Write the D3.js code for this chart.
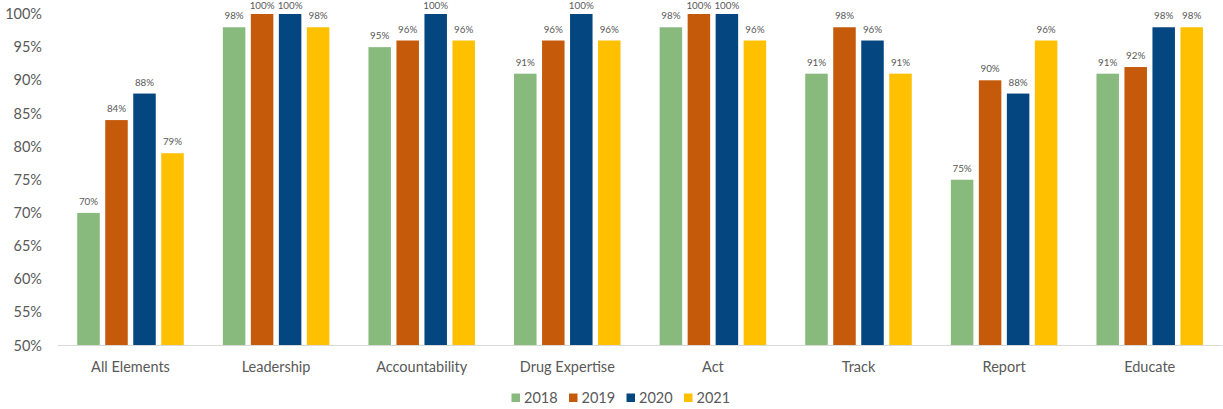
<!DOCTYPE html>
<html><head><meta charset="utf-8">
<script src="https://cdn.jsdelivr.net/npm/d3@7"></script>
<style>body{margin:0;background:#fff}svg{display:block}text{font-family:Lato,"Open Sans",sans-serif;fill:#595959}</style>
</head><body><svg id="c" width="1223" height="409"></svg>
<script>
const categories = ["All Elements","Leadership","Accountability","Drug Expertise","Act","Track","Report","Educate"];
const years = ["2018","2019","2020","2021"];
const v2018 = [70,98,95,91,98,91,75,91];
const v2019 = [84,100,96,96,100,98,90,92];
const v2020 = [88,100,100,100,100,96,88,98];
const v2021 = [79,98,96,96,96,91,96,98];
const yTicks = [50,55,60,65,70,75,80,85,90,95,100];
const colors = ["#88BA7E","#C55A0B","#04467F","#FFC000"];
const series = [v2018,v2019,v2020,v2021];

const svg = d3.select("#c");
const x = d3.scaleBand().domain(categories).range([57.7,1222.5]);
const y = d3.scaleLinear().domain([50,100]).range([345.5,14]);
const slot = 28, bw = 22.5;

svg.append("g").selectAll("text").data(yTicks).join("text")
  .attr("x",42).attr("y",d=>y(d)).attr("dy","0.35em").attr("text-anchor","end")
  .style("font-size","14.5px").text(d=>d+"%");

categories.forEach((c,i)=>{
  const cx = x(c)+x.bandwidth()/2;
  series.forEach((s,j)=>{
    const bx = cx + (j-1.5)*slot - bw/2;
    svg.append("rect").attr("x",bx).attr("y",y(s[i])).attr("width",bw)
      .attr("height",y(50)-y(s[i])).attr("fill",colors[j]);
    svg.append("text").attr("x",bx+bw/2).attr("y",Math.max(y(s[i])-8,9))
      .attr("text-anchor","middle").style("font-size","9.8px").text(s[i]+"%");
  });
  svg.append("text").attr("x",cx).attr("y",367).attr("dy","0.35em")
    .attr("text-anchor","middle").style("font-size","14.5px").text(c);
});

svg.append("line").attr("x1",57.7).attr("x2",1222.5).attr("y1",345.5).attr("y2",345.5)
  .attr("stroke","#D9D9D9").attr("stroke-width",1);

const lg = svg.append("g");
years.forEach((yr,j)=>{
  const lx = 511.5 + j*57.5;
  lg.append("rect").attr("x",lx).attr("y",393.5).attr("width",8.5).attr("height",8.5).attr("fill",colors[j]);
  lg.append("text").attr("x",lx+12.5).attr("y",398).attr("dy","0.35em").style("font-size","14.5px").text(yr);
});
</script></body></html>
